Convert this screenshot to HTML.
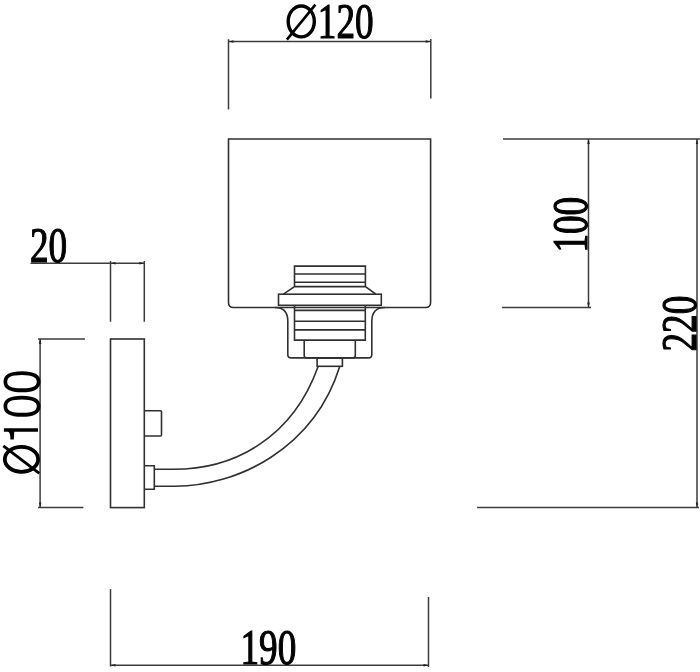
<!DOCTYPE html>
<html><head><meta charset="utf-8"><style>
html,body{margin:0;padding:0;background:#fff;width:700px;height:672px;overflow:hidden}
svg{display:block;filter:grayscale(100%)}
text{font-family:"Liberation Serif",serif;fill:#000;stroke:#000;stroke-width:1.2px}
.s{stroke:none}
.s{font-family:"Liberation Sans",sans-serif}
</style></head><body>
<svg width="700" height="672" viewBox="0 0 700 672">
<g fill="none" stroke="#303030" stroke-width="1.6">
<!-- shade -->
<path d="M228.5,302.5 V139 H430.6 V302.5 Q430.6,307.5 425.6,307.5 H233.5 Q228.5,307.5 228.5,302.5 Z"/>
<!-- socket top -->
<path d="M294.5,286.6 V266.1 H365.4 V286.6 M294.5,274 H365.4 M294.5,282.3 H365.4 M294.5,286.6 H365.4 L375.8,294.2 M294.5,286.6 L283.4,294.2"/>
<rect x="278.5" y="294.2" width="102.8" height="11.1"/>
<!-- lower thread -->
<path d="M294.5,305.3 V340.1 H365.3 V305.3 M294.5,310.4 H365.3 M294.5,321.2 H365.3 M294.5,329.9 H365.3"/>
<!-- nut -->
<path d="M304.2,340.1 V355.4 Q304.2,357.9 306.7,357.9 H352.8 Q355.3,357.9 355.3,355.4 V340.1"/>
<!-- cup -->
<path d="M274.9,307.5 C283,307.5 287.8,312 287.8,321 V354.4 Q287.8,357.9 291.3,357.9 H368.3 Q371.8,357.9 371.8,354.4 V321.5 C371.8,312 376.5,307.5 385,307.5"/>
<!-- pipe -->
<rect x="317.1" y="357.9" width="25.3" height="8.4"/>
<!-- arm -->
<path d="M154.3,469.3 L173.4,469.3 C234.4,469.3 292.7,438 318.2,366.3"/>
<path d="M154.3,486.2 L175.1,486.2 C237.1,486.2 314,448.9 339.8,366.3"/>
<!-- backplate -->
<rect x="110.5" y="339" width="33.8" height="168.6"/>
<path d="M144.3,410.7 H160.5 Q161.5,410.7 161.5,411.7 V435 Q161.5,436 160.5,436 H144.3"/>
<path d="M144.3,465.8 H154.3 V489.3 H144.3"/>
</g>
<g fill="none" stroke="#3c3c3c" stroke-width="1.5">
<!-- O120 dim -->
<path d="M228.5,41.5 H430.7 M228.5,39.3 V109.5 M430.8,39 V98.5"/>
<!-- 20 dim -->
<path d="M30.5,263.2 H144.3 M110.5,260.9 V321.7 M144.3,260.9 V321.7"/>
<!-- O100 dim -->
<path d="M40.1,339 V507.6 M38,339 H84.9 M38,507.6 H83.4"/>
<!-- 190 dim -->
<path d="M110.5,588.9 V666.4 M428.5,597.1 V667 M110.5,665.3 H428.5"/>
<!-- right dims -->
<path d="M503,139 H700 M588.5,139 V307.5 M502,307.5 H591 M697,139 V507.6 M477.1,507.6 H699"/>
</g>
<path fill="#222" d="M228.5,41.5 L233.5,42.8 L233.5,40.2 Z M430.7,41.5 L425.7,40.2 L425.7,42.8 Z M110.5,263.2 L115.5,264.4 L115.5,261.9 Z M144.3,263.2 L139.3,261.9 L139.3,264.4 Z M40.1,339.0 L38.9,344.0 L41.4,344.0 Z M40.1,507.6 L41.4,502.6 L38.9,502.6 Z M110.5,665.3 L115.5,666.5 L115.5,664.0 Z M428.5,665.3 L423.5,664.0 L423.5,666.5 Z M588.5,139.0 L587.2,144.0 L589.8,144.0 Z M588.5,307.5 L589.8,302.5 L587.2,302.5 Z M697.0,139.0 L695.8,144.0 L698.2,144.0 Z M697.0,507.6 L698.2,502.6 L695.8,502.6 Z "/>
<g fill="none" stroke="#000"><ellipse cx="301.25" cy="21.45" rx="13.05" ry="15.45" stroke-width="3.4"/><path d="M286.9,39.6 L315.4,4.6" stroke-width="2.6"/></g>
<text font-size="49.6" transform="translate(317.8,37.8) scale(0.75,1)">120</text>
<text font-size="49.6" transform="translate(30,262.2) scale(0.75,1)">20</text>
<text font-size="49.6" transform="translate(240.5,663.5) scale(0.75,1)">190</text>
<text font-size="49.6" transform="translate(587.2,252.6) rotate(-90) scale(0.75,1)">100</text>
<text font-size="49.6" transform="translate(696,351.5) rotate(-90) scale(0.75,1)">220</text>
<g fill="none" stroke="#000"><ellipse cx="21.45" cy="459.3" rx="16.65" ry="12.5" stroke-width="3.8"/><path d="M3.3,445.9 L39.3,473.4" stroke-width="2.8"/></g>
<path d="M3.9,428.2 H38 V431.8 H14.3 L13.8,439.5 H10.4 C10.4,435 10,432.5 8,431.8 H3.9 Z" fill="#000"/>
<text class="s" font-size="52" transform="translate(40.3,418.5) rotate(-90) scale(0.85,1)">00</text>
</svg>
</body></html>
